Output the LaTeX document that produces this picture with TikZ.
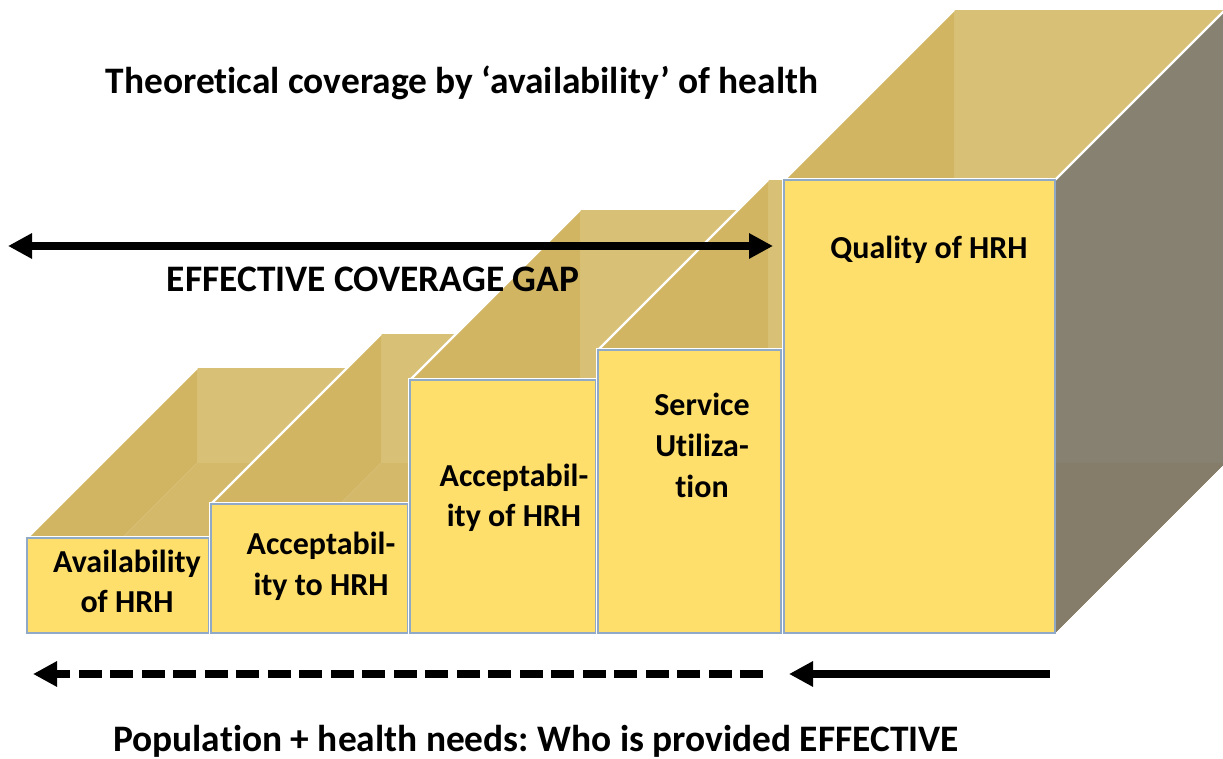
\documentclass[tikz,border=0pt]{standalone}
\usepackage{fontspec}
\setmainfont{Carlito}[Ligatures=NoCommon]
\usepackage{xcolor}
\usepackage{tikz}
\usetikzlibrary{arrows.meta}
\frenchspacing
\definecolor{faceY}{HTML}{FFDF6B}
\definecolor{wallGold}{HTML}{D2B563}
\definecolor{backGold}{HTML}{D8C177}
\definecolor{floorGold}{HTML}{D5B96A}
\definecolor{sideGray}{HTML}{878172}
\definecolor{sideLow}{HTML}{857C69}
\definecolor{edgeBlue}{HTML}{8FA9C6}
\tikzset{
  frontFace/.style={fill=faceY, draw=edgeBlue, line width=0.7pt},
  frontGap/.style={draw=white, line width=2.2pt},
  rimEdge/.style={draw=white, line width=1.2pt},
  bigLbl/.style={font=\fontsize{18.7}{22}\selectfont\bfseries, anchor=base, inner sep=0pt},
  stepLbl/.style={font=\fontsize{16}{20.5}\selectfont\bfseries, align=center, anchor=base, inner sep=0pt},
  gapArrow/.style={line width=4pt, {Triangle[length=12pt,width=12pt]}-{Triangle[length=12pt,width=12pt]}},
  flowArrow/.style={line width=4pt, -{Triangle[length=12pt,width=12pt]}},
  flowDash/.style={flowArrow, dash pattern=on 11.5pt off 4.25pt},
}
% open box: left x, right x, top y (floor at 633, depth 170)
\newcommand{\StepBox}[3]{%
  \fill[floorGold] (#1,633) -- (#2,633) -- (#2+170,463) -- (#1+170,463) -- cycle;
  \fill[backGold] (#1+170,#3-170) rectangle (#2+170,463);
  \fill[wallGold] (#1,633) -- (#1,#3) -- (#1+170,#3-170) -- (#1+170,463) -- cycle;
  \draw[rimEdge] (#1,#3) -- (#1+170,#3-170);
  \draw[frontGap] (#1,#3) rectangle (#2,633);
  \draw[frontFace] (#1,#3) rectangle (#2,633);
}
\newcommand{\ArrowEnds}{%
  \coordinate (gapL) at (8,246);
  \coordinate (gapR) at (773,246);
  \coordinate (dashR) at (763,674);
  \coordinate (dashL) at (33,674);
  \coordinate (solidR) at (1050,674);
  \coordinate (solidL) at (789,674);
}

\begin{document}
\begin{tikzpicture}[x=0.5pt, y=-0.5pt]
  \clip (0,0) rectangle (1223,759);
  \ArrowEnds

  \StepBox{27}{209}{538}
  \StepBox{211}{408}{504}
  \StepBox{410}{596}{380}
  \StepBox{598}{781}{350}
  \StepBox{784}{1055}{180}

  % outer side of the last box
  \fill[sideGray] (1055,180) -- (1225,10) -- (1225,463) -- (1055,633) -- cycle;
  \fill[sideLow] (1055,463) -- (1225,463) -- (1055,633) -- cycle;
  \draw[rimEdge] (1055,180) -- (1225,10);
  \draw[frontFace] (784,180) rectangle (1055,633);

  \node[bigLbl] (title) at (462,94) {Theoretical coverage by ‘availability’ of health};
  \node[bigLbl] (gapLbl) at (373,292) {EFFECTIVE COVERAGE GAP};
  \node[bigLbl] (popLbl) at (536,751) {Population + health needs: Who is provided EFFECTIVE};

  % base = last line
  \node[stepLbl] (avail)   at (127,613) {Availability\\of HRH};
  \node[stepLbl] (acctTo)  at (321,596) {Acceptabil-\\ity to HRH};
  \node[stepLbl] (acctOf)  at (514,527) {Acceptabil-\\ity of HRH};
  \node[stepLbl] (util)    at (702,498) {Service\\Utiliza-\\tion};
  \node[stepLbl] (quality) at (929,259) {Quality of HRH};

  \draw[gapArrow] (gapL) -- (gapR);
  \draw[flowDash] (dashR) -- (dashL);
  \draw[flowArrow] (solidR) -- (solidL);
\end{tikzpicture}
\end{document}
